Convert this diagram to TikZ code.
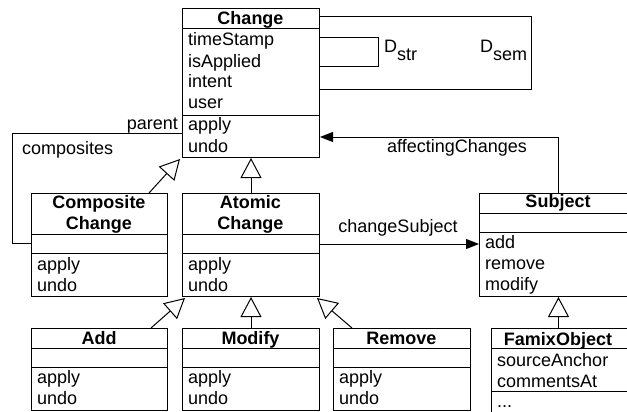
\documentclass[tikz,border=0pt]{standalone}
\usepackage{fontspec}
\setmainfont{Liberation Sans}
\usetikzlibrary{arrows.meta,calc}
\begin{document}
\begin{tikzpicture}[x=1pt,y=-1pt,
  box/.style={draw, line width=1pt, inner sep=0pt, anchor=north west},
  sep/.style={line width=1pt},
  txt/.style={anchor=base west, inner sep=0pt, font=\fontsize{18}{21}\selectfont},
  ttl/.style={anchor=base, inner sep=0pt, font=\fontsize{18}{21}\selectfont\bfseries},
  lbl/.style={inner sep=0pt, font=\fontsize{18}{21}\selectfont},
  conn/.style={line width=1pt},
  assoc/.style={conn, -{Triangle[length=13pt,width=10pt]}},
  gen/.style={conn, -{Triangle[open,length=20pt,width=21pt,fill=white]}},
]
\useasboundingbox (0,0) rectangle (627,412);
\clip (0,0) rectangle (627,412);

% ---- Change ----
\node[box, minimum width=137pt, minimum height=149pt] (ch) at (182,8) {};
\draw[sep] (182,29) -- (319,29);
\draw[sep] (182,115) -- (319,115);
\node[ttl] (chT) at (250.5,25) {Change};
\node[txt] (ch1) at (188,46) {timeStamp};
\node[txt] (ch2) at (188,67) {isApplied};
\node[txt] (ch3) at (188,88) {intent};
\node[txt] (ch4) at (188,109) {user};
\node[txt] (ch5) at (188,131) {apply};
\node[txt] (ch6) at (188,152) {undo};

% ---- Composite Change ----
\node[box, minimum width=136pt, minimum height=103pt] (cc) at (31,193) {};
\draw[sep] (31,234) -- (167,234);
\draw[sep] (31,253) -- (167,253);
\node[ttl] (ccT1) at (99,208) {Composite};
\node[ttl] (ccT2) at (99,229) {Change};
\node[txt] (cc1) at (37,270) {apply};
\node[txt] (cc2) at (37,291) {undo};

% ---- Atomic Change ----
\node[box, minimum width=137pt, minimum height=103pt] (ac) at (182,193) {};
\draw[sep] (182,234) -- (319,234);
\draw[sep] (182,253) -- (319,253);
\node[ttl] (acT1) at (250.5,208) {Atomic};
\node[ttl] (acT2) at (250.5,229) {Change};
\node[txt] (ac1) at (188,270) {apply};
\node[txt] (ac2) at (188,291) {undo};

% ---- Subject ----
\node[box, minimum width=158pt, minimum height=103pt] (sb) at (479,193) {};
\draw[sep] (479,213) -- (637,213);
\draw[sep] (479,232) -- (637,232);
\node[ttl] (sbT) at (558,207) {Subject};
\node[txt] (sb1) at (485,248) {add};
\node[txt] (sb2) at (485,269) {remove};
\node[txt] (sb3) at (485,290) {modify};

% ---- Add ----
\node[box, minimum width=136pt, minimum height=82pt] (ad) at (31,328) {};
\draw[sep] (31,348) -- (167,348);
\draw[sep] (31,367) -- (167,367);
\node[ttl] (adT) at (99,344) {Add};
\node[txt] (ad1) at (37,383) {apply};
\node[txt] (ad2) at (37,404) {undo};

% ---- Modify ----
\node[box, minimum width=137pt, minimum height=82pt] (mo) at (182,328) {};
\draw[sep] (182,348) -- (319,348);
\draw[sep] (182,367) -- (319,367);
\node[ttl] (moT) at (250.5,344) {Modify};
\node[txt] (mo1) at (188,383) {apply};
\node[txt] (mo2) at (188,404) {undo};

% ---- Remove ----
\node[box, minimum width=137pt, minimum height=82pt] (rm) at (333,328) {};
\draw[sep] (333,348) -- (470,348);
\draw[sep] (333,367) -- (470,367);
\node[ttl] (rmT) at (401.5,344) {Remove};
\node[txt] (rm1) at (339,383) {apply};
\node[txt] (rm2) at (339,404) {undo};

% ---- FamixObject ----
\node[box, minimum width=137pt, minimum height=100pt] (fo) at (491,328) {};
\draw[sep] (491,348) -- (628,348);
\draw[sep] (491,391) -- (628,391);
\node[ttl] (foT) at (558,345) {FamixObject};
\node[txt] (fo1) at (497,366) {sourceAnchor};
\node[txt] (fo2) at (497,387) {commentsAt};
\node[txt] (fo3) at (497,407) {...};

% ---- self loops ----
\draw[conn] ([yshift=-9pt]ch.north east) -- ++(211,0) -- ++(0,73) -- ([yshift=-82pt]ch.north east);
\draw[conn] ([yshift=-30pt]ch.north east) -- ++(58,0) -- ++(0,29) -- ([yshift=-59pt]ch.north east);
\node[lbl, anchor=base west] (dstr) at (384,53) {D\raisebox{-8pt}{str}};
\node[lbl, anchor=base west] (dsem) at (480,53) {D\raisebox{-8pt}{sem}};

% ---- associations ----
\draw[assoc] (sb.north) |- ([yshift=-129pt]ch.north east);
\node[lbl, anchor=base] (afl) at (457,152) {affectingChanges};
\draw[assoc] ([yshift=-51pt]ac.north east) -- ([yshift=-51pt]sb.north west);
\node[lbl, anchor=base] (csl) at (398,232) {changeSubject};
\draw[conn] ([yshift=-125pt]ch.north west) -- ++(-170,0) |- ([yshift=-50pt]cc.north west);
\node[lbl, anchor=base east] (pl) at (178,129) {parent};
\node[lbl, anchor=base west] (cpl) at (22,154.5) {composites};

% ---- generalizations ----
\draw[gen] ([xshift=-19pt]cc.north east) -- ([xshift=-2pt,yshift=-1pt]ch.south west);
\draw[gen] (ac.north) -- (ac.north |- ch.south);
\draw[gen] ([xshift=-17pt]ad.north east) -- ([xshift=3pt,yshift=-1pt]ac.south west);
\draw[gen] (mo.north) -- (mo.north |- ac.south);
\draw[gen] ([xshift=19pt]rm.north west) -- ([xshift=-3pt,yshift=-1pt]ac.south east);
\draw[gen] (sb.south |- fo.north) -- (sb.south);
\end{tikzpicture}
\end{document}
